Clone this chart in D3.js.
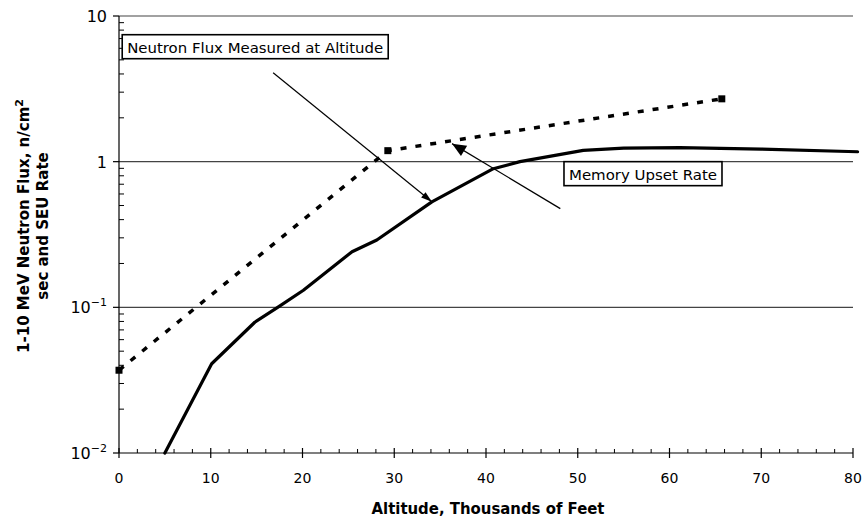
<!DOCTYPE html>
<html>
<head>
<meta charset="utf-8">
<script src="https://cdn.jsdelivr.net/npm/d3@7"></script>
<style>
  html, body { margin: 0; padding: 0; background: #fff; }
  svg { display: block; }
</style>
</head>
<body>
<svg id="chart" width="864" height="520"></svg>
<script>
// ---- data ----
const xTickValues = [0, 10, 20, 30, 40, 50, 60, 70, 80];
const yTickValues = [0.01, 0.1, 1, 10];
const yTickBase = ["10", "10", "1", "10"];
const yTickExp = ["-2", "-1", "", ""];

// dashed series (square markers)
const fluxAlt = [0, 29.3, 65.7];
const fluxVal = [0.037, 1.19, 2.7];

// solid series
const seuAlt = [5, 10.1, 14.8, 17.5, 20.1, 25.4, 28.1, 34.1, 40.8, 43.7, 50.6, 55, 61.1, 70, 80.5];
const seuVal = [0.01, 0.041, 0.079, 0.102, 0.131, 0.241, 0.29, 0.53, 0.895, 1.0, 1.196, 1.24, 1.25, 1.22, 1.17];

// annotations (data coordinates)
const noteText = ["Neutron Flux Measured at Altitude", "Memory Upset Rate"];
const noteAt = [[0.35, 7.44], [48.5, 1.0]];
const noteWidth = [266, 158];
const pointerFrom = [[16.8, 4.08], [48.1, 0.476]];
const pointerTo = [[34.1, 0.53], [36.3, 1.33]];

const xTitle = "Altitude, Thousands of Feet";
const yTitle1 = "1-10 MeV Neutron Flux, n/cm";
const yTitle2 = "sec and SEU Rate";

// ---- layout ----
const svg = d3.select("#chart");
const x = d3.scaleLinear().domain([0, 80]).range([119, 853]);
const y = d3.scaleLog().domain([0.01, 10]).range([453, 16]);
const tickFont = "'DejaVu Sans', sans-serif";

// grid lines at decades above bottom
svg.append("g").selectAll("line").data(yTickValues.slice(1)).join("line")
  .attr("x1", x(0)).attr("x2", x(80))
  .attr("y1", d => y(d)).attr("y2", d => y(d))
  .attr("stroke", "#444").attr("stroke-width", 1.2);

// y axis
const yAxisG = svg.append("g");
yAxisG.append("line").attr("x1", x(0)).attr("x2", x(0)).attr("y1", y(10)).attr("y2", y(0.01))
  .attr("stroke", "#000").attr("stroke-width", 1.2);
const yMinor = [];
[0.01, 0.1, 1].forEach(dec => { for (let k = 2; k <= 9; k++) yMinor.push(dec * k); });
yAxisG.selectAll("line.minor").data(yMinor).join("line").attr("class", "minor")
  .attr("x1", x(0)).attr("x2", x(0) + 5)
  .attr("y1", d => y(d)).attr("y2", d => y(d))
  .attr("stroke", "#000").attr("stroke-width", 1);
yAxisG.selectAll("line.major").data(yTickValues).join("line").attr("class", "major")
  .attr("x1", x(0) - 6).attr("x2", x(0))
  .attr("y1", d => y(d)).attr("y2", d => y(d))
  .attr("stroke", "#000").attr("stroke-width", 1.2);
const yLab = yAxisG.selectAll("text").data(yTickValues).join("text")
  .attr("x", 107).attr("y", d => y(d) + 6)
  .attr("text-anchor", "end")
  .attr("font-family", tickFont).attr("font-size", 16).attr("fill", "#000");
yLab.append("tspan").text((d, i) => yTickBase[i]);
yLab.append("tspan").attr("dy", -7).attr("font-size", 11).text((d, i) => yTickExp[i] ? "\u2212" + yTickExp[i].slice(1) : "");

// x axis
const xAxisG = svg.append("g");
xAxisG.append("line").attr("x1", x(0)).attr("x2", x(80)).attr("y1", y(0.01)).attr("y2", y(0.01))
  .attr("stroke", "#000").attr("stroke-width", 1.2);
const xMinor = d3.range(0, 81, 2).filter(v => v % 10 !== 0);
xAxisG.selectAll("line.minor").data(xMinor).join("line").attr("class", "minor")
  .attr("x1", d => x(d)).attr("x2", d => x(d))
  .attr("y1", y(0.01) - 4).attr("y2", y(0.01))
  .attr("stroke", "#000").attr("stroke-width", 1);
xAxisG.selectAll("line.major").data(xTickValues).join("line").attr("class", "major")
  .attr("x1", d => x(d)).attr("x2", d => x(d))
  .attr("y1", y(0.01) - 5).attr("y2", y(0.01) + 5)
  .attr("stroke", "#000").attr("stroke-width", 1.2);
xAxisG.selectAll("text").data(xTickValues).join("text")
  .attr("x", d => x(d)).attr("y", 483)
  .attr("text-anchor", "middle")
  .attr("font-family", tickFont).attr("font-size", 14).attr("fill", "#000")
  .text(d => d);

// axis titles
svg.append("text").attr("x", 488).attr("y", 514).attr("text-anchor", "middle")
  .attr("font-family", "'DejaVu Sans', sans-serif").attr("font-weight", "bold").attr("font-size", 15)
  .attr("textLength", 233).attr("lengthAdjust", "spacingAndGlyphs")
  .text(xTitle);
const yt1 = svg.append("text").attr("transform", "translate(29,226) rotate(-90)")
  .attr("text-anchor", "middle")
  .attr("font-family", "'DejaVu Sans', sans-serif").attr("font-weight", "bold").attr("font-size", 15);
yt1.append("tspan").text(yTitle1);
yt1.append("tspan").attr("dy", -6).attr("font-size", 11).text("2");
svg.append("text").attr("transform", "translate(48,226) rotate(-90)")
  .attr("text-anchor", "middle")
  .attr("font-family", "'DejaVu Sans', sans-serif").attr("font-weight", "bold").attr("font-size", 15)
  .text(yTitle2);

// series
const fluxPts = fluxAlt.map((a, i) => [a, fluxVal[i]]);
const seuPts = seuAlt.map((a, i) => [a, seuVal[i]]);
const line = d3.line().x(d => x(d[0])).y(d => y(d[1]));

svg.append("path").attr("d", line(fluxPts))
  .attr("fill", "none").attr("stroke", "#000").attr("stroke-width", 3.5)
  .attr("stroke-dasharray", "6,9");
svg.append("g").selectAll("rect").data(fluxPts).join("rect")
  .attr("x", d => x(d[0]) - 3.5).attr("y", d => y(d[1]) - 3.5)
  .attr("width", 7).attr("height", 7).attr("fill", "#000");

svg.append("path").attr("d", line(seuPts))
  .attr("fill", "none").attr("stroke", "#000").attr("stroke-width", 3.2)
  .attr("stroke-linejoin", "round").attr("stroke-linecap", "round");

// pointers with arrowheads
pointerFrom.forEach((f, i) => {
  const t = pointerTo[i];
  const x1 = x(f[0]), y1 = y(f[1]), x2 = x(t[0]), y2 = y(t[1]);
  svg.append("line").attr("x1", x1).attr("y1", y1).attr("x2", x2).attr("y2", y2)
    .attr("stroke", "#000").attr("stroke-width", 1.2);
  const ang = Math.atan2(y2 - y1, x2 - x1);
  const len = i === 0 ? 11 : 14, half = i === 0 ? 3.5 : 6;
  const bx = x2 - len * Math.cos(ang), by = y2 - len * Math.sin(ang);
  const px = -Math.sin(ang) * half, py = Math.cos(ang) * half;
  svg.append("path")
    .attr("d", `M${x2},${y2}L${bx + px},${by + py}L${bx - px},${by - py}Z`)
    .attr("fill", "#000");
});

// annotation boxes
noteText.forEach((txt, i) => {
  const g = svg.append("g");
  const tx = x(noteAt[i][0]), ty = y(noteAt[i][1]);
  g.append("rect")
    .attr("x", tx).attr("y", ty)
    .attr("width", noteWidth[i]).attr("height", 24)
    .attr("fill", "#fff").attr("stroke", "#000").attr("stroke-width", 1.6);
  g.append("text").attr("x", tx + 5).attr("y", ty + 18)
    .attr("font-family", tickFont).attr("font-size", 14).attr("fill", "#000")
    .attr("textLength", noteWidth[i] - 10).attr("lengthAdjust", "spacingAndGlyphs")
    .text(txt);
});
</script>
</body>
</html>
